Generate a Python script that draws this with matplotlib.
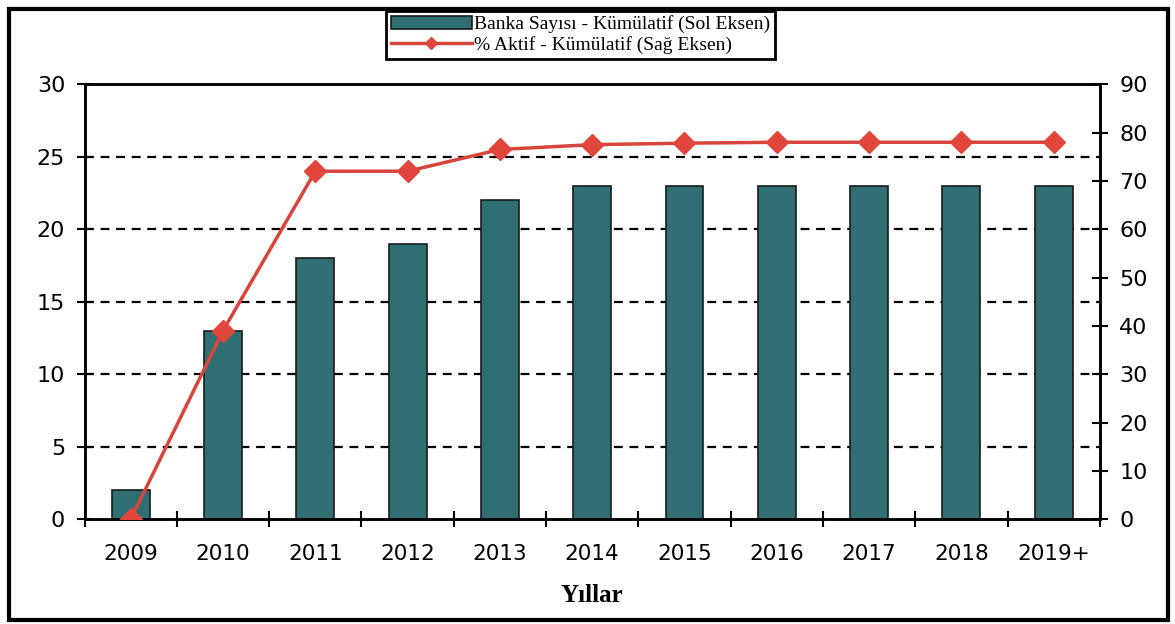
import matplotlib.pyplot as plt
import matplotlib.patches as mpatches
import numpy as np

years = ['2009', '2010', '2011', '2012', '2013', '2014', '2015', '2016', '2017', '2018', '2019+']
banka_kumulatif = [2, 13, 18, 19, 22, 23, 23, 23, 23, 23, 23]
aktif_kumulatif = [0, 39, 72, 72, 76.5, 77.5, 77.8, 78, 78, 78, 78]

bar_color = '#2f6e73'
line_color = '#d8453c'

fig = plt.figure(figsize=(11.75, 6.24), dpi=100)
ax = fig.add_axes([0.072, 0.168, 0.864, 0.697])
ax2 = ax.twinx()

x = np.arange(len(years))

ax.bar(x, banka_kumulatif, width=0.41, color=bar_color, edgecolor='#1a1a1a',
       linewidth=1.2, zorder=3, label='Banka Sayısı - Kümülatif (Sol Eksen)')
ax2.plot(x, aktif_kumulatif, color=line_color, lw=2.5, marker='D', markersize=11,
         markerfacecolor='#e0463c', markeredgecolor='#e0463c', zorder=4,
         label='% Aktif - Kümülatif (Sağ Eksen)')

# sol eksen
ax.set_ylim(0, 30)
ax.set_yticks(range(0, 31, 5))
ax.set_xlim(-0.5, len(years) - 0.5)
for y in range(5, 30, 5):
    ax.axhline(y, color='black', lw=1.6, ls=(0, (4, 3)), zorder=1)

# sağ eksen
ax2.set_ylim(0, 90)
ax2.set_yticks(range(0, 91, 10))

# x ekseni: çentikler kategori sınırlarında, etiketler ortada
ax.set_xticks(np.arange(-0.5, len(years), 1.0))
ax.set_xticklabels([])
ax.set_xticks(x, minor=True)
ax.set_xticklabels(years, minor=True)
ax.tick_params(axis='x', which='major', direction='inout', length=12, width=1.5)
ax.tick_params(axis='x', which='minor', length=0, pad=18, labelsize=15.5)
ax.tick_params(axis='y', direction='inout', length=12, width=1.5, labelsize=16, pad=8)
ax2.tick_params(axis='y', direction='inout', length=12, width=1.5, labelsize=16, pad=8)

for a in (ax, ax2):
    for s in a.spines.values():
        s.set_linewidth(1.8)

ax.set_xlabel('Yıllar', family='Liberation Serif', fontsize=18, fontweight='bold', labelpad=14)

h1, l1 = ax.get_legend_handles_labels()
h2, l2 = ax2.get_legend_handles_labels()
leg = fig.legend(h1 + h2, l1 + l2, loc='upper center', bbox_to_anchor=(0.494, 0.983),
                 prop={'family': 'Liberation Serif', 'size': 14}, fancybox=False,
                 edgecolor='black', framealpha=1, borderpad=0.25, labelspacing=0.15,
                 handlelength=4.2, handletextpad=0.1, markerscale=0.6, borderaxespad=0)
leg.get_frame().set_linewidth(2)

# dış çerçeve
fig.patches.append(mpatches.Rectangle((0.008, 0.007), 0.986, 0.978, transform=fig.transFigure,
                                      fill=False, edgecolor='black', lw=3))

fig.savefig('out.png', dpi=100)
